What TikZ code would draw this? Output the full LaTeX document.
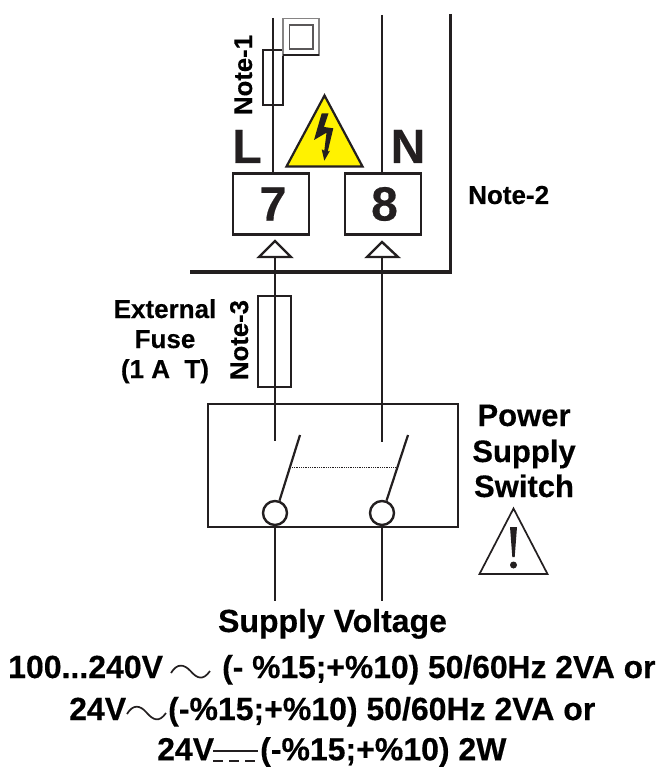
\documentclass[tikz,border=0pt]{standalone}
\usepackage{fontspec}
\setmainfont[BoldFeatures={FakeBold=0.35}]{Liberation Sans}
\usetikzlibrary{calc}
\definecolor{ink}{HTML}{231F20}
\definecolor{warnyellow}{HTML}{FFF200}
\newcommand{\fs}[1]{\fontsize{#1}{#1}\selectfont\bfseries}
\tikzset{
  wire/.style={draw=ink,line width=2.2pt},
  boxline/.style={draw=ink,line width=2.4pt},
  terminal/.style={boxline,rectangle,minimum width=76pt,minimum height=61pt,inner sep=0pt,font=\fs{48},text=ink},
  fuse/.style={boxline,rectangle,inner sep=0pt},
  contact/.style={boxline,circle,minimum size=24pt,inner sep=0pt},
  lab/.style={inner sep=0pt,anchor=base,text=black},
  note/.style={inner sep=0pt,anchor=base,rotate=90,font=\fs{25.7},text=black},
  tip/.style={boxline,fill=white,line join=miter}
}
\begin{document}
\begin{tikzpicture}[x=1pt,y=-1pt]
\useasboundingbox (0,0) rectangle (659,767);
% housing frame
\coordinate (frameA) at (450.5,14);
\coordinate (frameB) at (450.5,272);
\coordinate (frameC) at (190,272);
\draw[draw=ink,line width=3.6pt,line join=miter] (frameA) -- (frameB) -- (frameC);
% terminals
\node[terminal] (t7) at (271,204) {\hspace*{4pt}7};
\node[terminal] (t8) at (383,204) {\hspace*{3pt}8};
% upper wires
\coordinate (lTop) at (273,18);
\coordinate (nTop) at (382,15);
\draw[wire] (lTop) -- (lTop |- t7.north);
\draw[wire] (nTop) -- (nTop |- t8.north);
% internal fuse and relay square
\node[fuse,minimum width=20pt,minimum height=55pt] (f1) at (273,77.5) {};
\draw[draw=ink!55,line width=1.6pt] (283,18.5) rectangle (319,55);
\draw[draw=ink!75,line width=1.6pt] (289.5,25) rectangle (313,49);
\draw[boxline,line width=1.8pt] (283,55) -- (319,55);
% labels
\node[note] at (252,75) {Note-1};
\node[lab,font=\fs{48},text=ink] at (247,163) {L};
\node[lab,font=\fs{48},text=ink] at (408,163) {N};
\node[lab,font=\fs{26},anchor=base west] at (468,204) {Note-2};
% lightning triangle
\draw[fill=warnyellow,draw=ink,line width=2.2pt,line join=miter] (324.5,95.5) -- (362.5,166.5) -- (286.5,166.5) -- cycle;
\fill[ink] (321.7,113.3) -- (328.5,113.3) -- (324,127) -- (333.3,128.3) -- (327.7,151.7) -- (330,150.7) -- (324.3,160.7) -- (321.7,149.3) -- (324.3,150.7) -- (326.5,132.7) -- (314,140) -- cycle;
% arrow tips at terminals
\coordinate (tip7) at (275,241);
\coordinate (tip8) at (382,242);
\draw[tip] (tip7) -- (291,257) -- (259,257) -- cycle;
\draw[tip] (tip8) -- (398,257) -- (367,257) -- cycle;
% switch box
\node[boxline,rectangle,minimum width=250pt,minimum height=123pt,inner sep=0pt] (sw) at (333,465.5) {};
% long wires
\coordinate (c7) at (275,257);
\coordinate (c8) at (382,257);
\coordinate (e7) at (275,441);
\coordinate (e8) at (382,442);
\draw[wire] (c7) -- (e7);
\draw[wire] (c8) -- (e8);
% external fuse
\node[fuse,minimum width=33pt,minimum height=91pt] (f3) at (274.5,341.5) {};
\draw[wire] (c7 |- f3.north) -- (c7 |- f3.south);
\node[note] at (248,340) {Note-3};
\node[lab,font=\fs{26}] at (165,318) {External};
\node[lab,font=\fs{26}] at (165,348) {Fuse};
\node[lab,font=\fs{26}] at (165,378) {(1 A\ \ T)};
% switch contacts
\node[contact] (k7) at (275,513) {};
\node[contact] (k8) at (382,513) {};
\coordinate (l7) at (300,435);
\coordinate (l8) at (408,435);
\draw[wire] (l7) -- (k7.70);
\draw[wire] (l8) -- (k8.70);
\draw[draw=ink,line width=1.1pt,dash pattern=on 1pt off 0.8pt] (292,467.5) -- (396,467.5);
\coordinate (b7) at (275,601);
\coordinate (b8) at (382,601);
\draw[wire] (k7.south) -- (b7);
\draw[wire] (k8.south) -- (b8);
% power supply switch label
\node[lab,font=\fs{31}] at (524,426) {Power};
\node[lab,font=\fs{31}] at (524,462) {Supply};
\node[lab,font=\fs{31}] at (524,497) {Switch};
% caution triangle
\draw[draw=ink,line width=1.7pt,line join=miter] (513.5,508.5) -- (547.5,574) -- (479.5,574) -- cycle;
\fill[ink] (510,527) -- (517,527) -- (514.7,557) -- (512.3,557) -- cycle;
\fill[ink] (513.5,565) circle (3.5);
% bottom text
\node[lab,font=\fs{32}] at (332.5,632) {Supply Voltage};
\node[lab,font=\fs{32},anchor=base west] at (8,678) {100...240V};
\draw[draw=ink,line width=1.7pt] (171,673) .. controls (177,663) and (184,664) .. (190.5,671) .. controls (197,678.5) and (203,681) .. (210,671);
\node[lab,font=\fs{31.8},anchor=base west] at (222,678) {(- \%15;+\%10) 50/60Hz 2VA or};
\node[lab,font=\fs{32},anchor=base west] at (69,720) {24V};
\draw[draw=ink,line width=1.7pt] (127,714) .. controls (133,704) and (140,705) .. (146.5,712.5) .. controls (153,720) and (159,723) .. (166,713);
\node[lab,font=\fs{32},anchor=base west] at (168,720) {(-\%15;+\%10) 50/60Hz 2VA or};
\node[lab,font=\fs{32},anchor=base west] at (157,760.3) {24V};
\draw[draw=ink,line width=2pt] (213,751) -- (258,751);
\draw[draw=ink,line width=2pt,dash pattern=on 10pt off 6pt] (213,761) -- (258,761);
\node[lab,font=\fs{32},anchor=base west] at (260,760.3) {(-\%15;+\%10) 2W};
\end{tikzpicture}
\end{document}
